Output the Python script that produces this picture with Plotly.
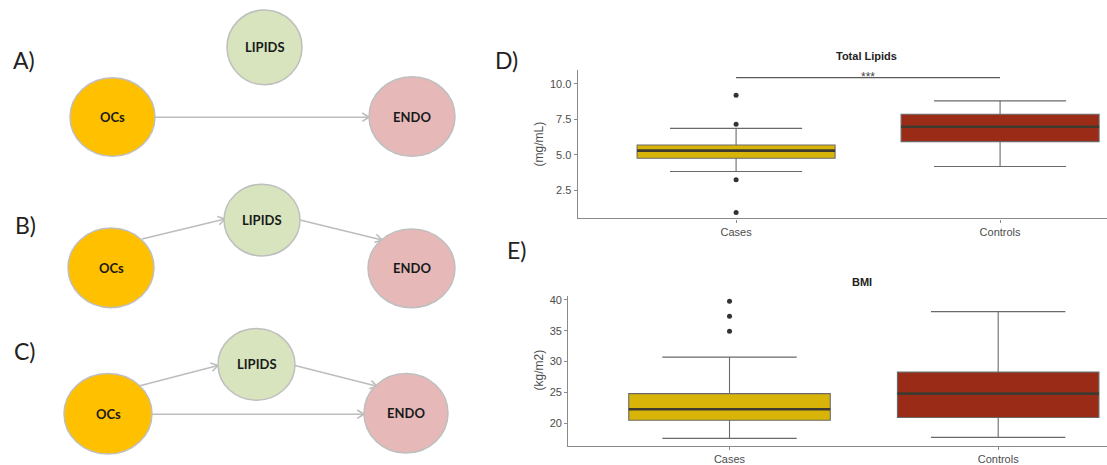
import numpy as np
import plotly.graph_objects as go

W, H = 1107, 465

# ---------------- data ----------------
groups = ["Cases", "Controls"]

lipids_q1 = [4.77, 5.94]
lipids_median = [5.31, 6.99]
lipids_q3 = [5.70, 7.87]
lipids_lower = [3.84, 4.19]
lipids_upper = [6.87, 8.81]
lipids_outliers_cases = [9.20, 7.17, 3.25, 0.96]
lipids_sig_level = 10.44
lipids_sig_label = "***"
lipids_ticks = [2.5, 5.0, 7.5, 10.0]

bmi_q1 = [20.53, 20.97]
bmi_median = [22.30, 24.83]
bmi_q3 = [24.83, 28.30]
bmi_lower = [17.59, 17.75]
bmi_upper = [30.72, 38.07]
bmi_outliers_cases = [39.73, 37.31, 34.90]
bmi_ticks = [20, 25, 30, 35, 40]

node_names = ["OCs", "LIPIDS", "ENDO"]
node_colors = ["#FFC000", "#D7E4BD", "#E6B9B8"]
panel_labels = ["A)", "B)", "C)"]
panel_edges = [[(0, 2)], [(0, 1), (1, 2)], [(0, 1), (1, 2), (0, 2)]]

title_text = ("Figure 2. Hypothesized Models: Independent (A), Mediated by Lipids (B), "
              "and Partial Mediation (C) with Lipid Comparisons (Complete)")

# ---------------- layout geometry (pixels) ----------------
# node ellipses per panel: (cx, cy, rx, ry)
panel_nodes = [
    [(112.5, 115.5, 42.5, 39.5), (264.5, 45.5, 37.5, 37.5), (412, 115, 43, 40)],
    [(111, 267, 43, 40), (262, 219, 38, 36), (411.5, 267.5, 43.5, 39.5)],
    [(108, 413.5, 44, 40.5), (256.5, 364, 38.5, 36), (406, 413, 42, 40)],
]
# arrow endpoints per panel (tail, head) in pixels
panel_arrows = [
    [((155, 115.7), (369, 115.7))],
    [((142, 238), (225, 218)), ((300, 219), (382, 239))],
    [((138, 386), (218, 365)), ((295, 365), (377, 386)), ((152, 414), (364, 414))],
]
panel_label_pos = [(24, 58), (25, 224), (25, 351)]


def px(x):
    return x / W


def py(y):
    return 1 - y / H


fig = go.Figure()
shapes = []
annotations = []

ARROW_COL = "#BDBDBD"
for p in range(3):
    for (tail, head) in panel_arrows[p]:
        shapes.append(dict(type="line", xref="paper", yref="paper",
                           x0=px(tail[0]), y0=py(tail[1]), x1=px(head[0]), y1=py(head[1]),
                           line=dict(color=ARROW_COL, width=1.6)))
        d = np.array([head[0] - tail[0], head[1] - tail[1]], dtype=float)
        d /= np.linalg.norm(d)
        for sgn in (1, -1):
            a = np.deg2rad(32) * sgn
            rot = np.array([[np.cos(a), -np.sin(a)], [np.sin(a), np.cos(a)]])
            b = rot @ (-d) * 8
            shapes.append(dict(type="line", xref="paper", yref="paper",
                               x0=px(head[0]), y0=py(head[1]),
                               x1=px(head[0] + b[0]), y1=py(head[1] + b[1]),
                               line=dict(color=ARROW_COL, width=1.6)))
    for i, (cx, cy, rx, ry) in enumerate(panel_nodes[p]):
        shapes.append(dict(type="circle", xref="paper", yref="paper",
                           x0=px(cx - rx), x1=px(cx + rx), y0=py(cy + ry), y1=py(cy - ry),
                           fillcolor=node_colors[i], line=dict(color="#BFBFBF", width=1.5)))
        annotations.append(dict(xref="paper", yref="paper", x=px(cx), y=py(cy),
                                text="<b>%s</b>" % node_names[i], showarrow=False,
                                font=dict(family="Lato", size=13, color="#1a1a1a"),
                                xanchor="center", yanchor="middle"))
    lx, ly = panel_label_pos[p]
    annotations.append(dict(xref="paper", yref="paper", x=px(lx), y=py(ly),
                            text=panel_labels[p], showarrow=False,
                            font=dict(family="Lato", size=23, color="#222222"),
                            xanchor="center", yanchor="middle"))

annotations.append(dict(xref="paper", yref="paper", x=px(506), y=py(58), text="D)",
                        showarrow=False, font=dict(family="Lato", size=23, color="#222222"),
                        xanchor="center", yanchor="middle"))
annotations.append(dict(xref="paper", yref="paper", x=px(516), y=py(249), text="E)",
                        showarrow=False, font=dict(family="Lato", size=23, color="#222222"),
                        xanchor="center", yanchor="middle"))

# figure caption, cropped at the very top edge as in the source image
annotations.append(dict(xref="paper", yref="paper", x=px(40), y=py(0.6), yshift=4,
                        text="<b>%s</b>" % title_text,
                        showarrow=False, font=dict(family="Liberation Serif", size=17, color="#000000"),
                        xanchor="left", yanchor="bottom"))

# ---------------- box plots ----------------
CASE_COL = "#D8B308"
CTRL_COL = "#9A2C17"
LINE_COL = "#6A6A6A"
AX_COL = "#8A8A8A"
TXT_COL = "#4D4D4D"
AXFONT = "Liberation Sans"


def add_box(xa, ya, q1, med, q3, lo, hi, out_cases):
    for i, g in enumerate(groups):
        fig.add_trace(go.Box(
            x=[g], q1=[q1[i]], median=[med[i]], q3=[q3[i]],
            lowerfence=[lo[i]], upperfence=[hi[i]],
            width=0.75, whiskerwidth=0.667,
            fillcolor=CASE_COL if i == 0 else CTRL_COL,
            line=dict(color=LINE_COL, width=1.1),
            boxpoints=False, showlegend=False, hoverinfo="skip",
            xaxis=xa, yaxis=ya))
        shapes.append(dict(type="line", xref=xa, yref=ya,
                           x0=i - 0.375, x1=i + 0.375, y0=med[i], y1=med[i],
                           line=dict(color="#3E3A30", width=2.6)))
    fig.add_trace(go.Scatter(x=[groups[0]] * len(out_cases), y=out_cases, mode="markers",
                             marker=dict(color="#333333", size=5), showlegend=False,
                             hoverinfo="skip", xaxis=xa, yaxis=ya))


add_box("x", "y", lipids_q1, lipids_median, lipids_q3, lipids_lower, lipids_upper,
        lipids_outliers_cases)
add_box("x2", "y2", bmi_q1, bmi_median, bmi_q3, bmi_lower, bmi_upper, bmi_outliers_cases)

# significance bar
fig.add_trace(go.Scatter(x=groups, y=[lipids_sig_level] * 2, mode="lines",
                         line=dict(color="#5A5A5A", width=1.2), showlegend=False,
                         hoverinfo="skip", xaxis="x", yaxis="y"))
annotations.append(dict(xref="x", yref="y", x=0.5, y=lipids_sig_level, text=lipids_sig_label,
                        showarrow=False, font=dict(family=AXFONT, size=12, color="#444444"),
                        xanchor="center", yanchor="middle", yshift=1))

# titles
annotations.append(dict(xref="paper", yref="paper", x=px(866.7), y=py(54), text="<b>Total Lipids</b>",
                        showarrow=False, font=dict(family=AXFONT, size=11, color="#222222"),
                        xanchor="center", yanchor="middle"))
annotations.append(dict(xref="paper", yref="paper", x=px(862.3), y=py(281.7), text="<b>BMI</b>",
                        showarrow=False, font=dict(family=AXFONT, size=11, color="#222222"),
                        xanchor="center", yanchor="middle"))
annotations.append(dict(xref="paper", yref="paper", x=px(539), y=py(143), text="(mg/mL)",
                        showarrow=False, textangle=-90,
                        font=dict(family=AXFONT, size=12, color=TXT_COL),
                        xanchor="center", yanchor="middle"))
annotations.append(dict(xref="paper", yref="paper", x=px(539), y=py(370), text="(kg/m2)",
                        showarrow=False, textangle=-90,
                        font=dict(family=AXFONT, size=12, color=TXT_COL),
                        xanchor="center", yanchor="middle"))

common_x = dict(type="category", categoryorder="array", categoryarray=groups,
                range=[-0.6, 1.405], showline=True, linecolor=AX_COL, linewidth=1.3,
                ticks="outside", ticklen=3, tickcolor=AX_COL, showgrid=False, zeroline=False,
                tickfont=dict(family=AXFONT, size=11, color=TXT_COL), fixedrange=True)
common_y = dict(showline=True, linecolor=AX_COL, linewidth=1.3, ticks="outside", ticklen=3,
                tickcolor=AX_COL, showgrid=False, zeroline=False,
                tickfont=dict(family=AXFONT, size=11, color=TXT_COL), fixedrange=True)

fig.update_layout(
    width=W, height=H, margin=dict(l=0, r=0, t=0, b=0),
    paper_bgcolor="white", plot_bgcolor="white",
    boxmode="overlay", showlegend=False,
    xaxis=dict(domain=[px(577.7), 1.0], anchor="y", **common_x),
    yaxis=dict(domain=[py(217.3), py(68.3)], anchor="x", range=[0.54, 10.98],
               tickvals=lipids_ticks, ticktext=["%.1f" % v for v in lipids_ticks], **common_y),
    xaxis2=dict(domain=[px(568.3), 1.0], anchor="y2", **common_x),
    yaxis2=dict(domain=[py(446), py(295)], anchor="x2", range=[16.35, 40.64],
                tickvals=bmi_ticks, ticktext=[str(v) for v in bmi_ticks], **common_y),
    shapes=shapes, annotations=annotations,
)

fig.write_html("out.html", config=dict(displayModeBar=False),
               post_script="document.body.style.margin='0';")
